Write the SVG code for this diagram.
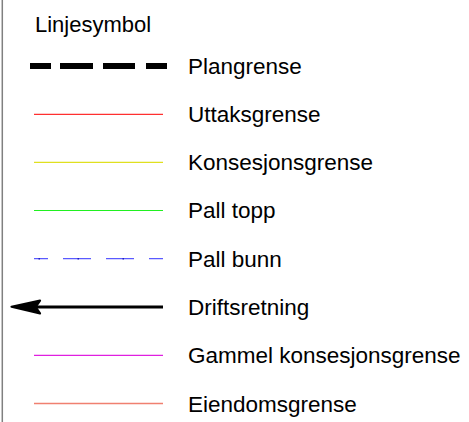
<svg xmlns="http://www.w3.org/2000/svg" width="469" height="422" viewBox="0 0 469 422">
<style>
text{font-family:"Liberation Sans",Arial,sans-serif;font-size:22.5px;fill:#000}
.sym{fill:none}
</style>
<rect x="0" y="0" width="469" height="422" fill="#fff"/>
<line x1="2.3" y1="0" x2="2.3" y2="422" stroke="#808080" stroke-width="1.5"/>
<text id="title" x="35" y="32" style="font-size:22px">Linjesymbol</text>
<g id="connectors">
<g id="sym-plangrense"><line class="sym" x1="30" y1="66" x2="167" y2="66" stroke="#000" stroke-width="6" stroke-dasharray="21 9 33 10 32 11 21"/></g>
<g id="sym-uttaksgrense"><line class="sym" x1="34" y1="114.3" x2="163" y2="114.3" stroke="#ff3030" stroke-width="1.2"/></g>
<g id="sym-konsesjonsgrense"><line class="sym" x1="34" y1="162.3" x2="163" y2="162.3" stroke="#e0e020" stroke-width="1.2"/></g>
<g id="sym-pall-topp"><line class="sym" x1="34" y1="210.5" x2="163" y2="210.5" stroke="#20f020" stroke-width="1.2"/></g>
<g id="sym-pall-bunn"><line class="sym" x1="34" y1="258.7" x2="163" y2="258.7" stroke="#5a5aff" stroke-width="1.2" stroke-dasharray="14 15 28 15 28 15 14"/>
<g fill="#2020c0"><rect x="38.5" y="258" width="1.5" height="1.5"/><rect x="77.5" y="258" width="1.5" height="1.5"/><rect x="122.5" y="258" width="1.5" height="1.5"/></g></g>
<g id="sym-driftsretning"><line class="sym" x1="163" y1="307" x2="36" y2="307" stroke="#000" stroke-width="3"/>
<path d="M11.5,306.7 L40,300.5 L35.5,307 L40,313.5 Z" fill="#000" stroke="#000" stroke-width="2.2" stroke-linejoin="round"/></g>
<g id="sym-gammel"><line class="sym" x1="34" y1="355.3" x2="163" y2="355.3" stroke="#e020e0" stroke-width="1.2"/></g>
<g id="sym-eiendomsgrense"><line class="sym" x1="34" y1="403.5" x2="163" y2="403.5" stroke="#f08070" stroke-width="1.4"/></g>
</g>
<g id="label-plangrense"><text x="188" y="73.5">Plangrense</text></g>
<g id="label-uttaksgrense"><text x="188" y="121.7">Uttaksgrense</text></g>
<g id="label-konsesjonsgrense"><text x="188" y="169.9">Konsesjonsgrense</text></g>
<g id="label-pall-topp"><text x="188" y="218.2">Pall topp</text></g>
<g id="label-pall-bunn"><text x="188" y="266.5">Pall bunn</text></g>
<g id="label-driftsretning"><text x="188" y="314.8">Driftsretning</text></g>
<g id="label-gammel"><text x="188" y="363.1">Gammel konsesjonsgrense</text></g>
<g id="label-eiendomsgrense"><text x="188" y="411.5">Eiendomsgrense</text></g>
</svg>
